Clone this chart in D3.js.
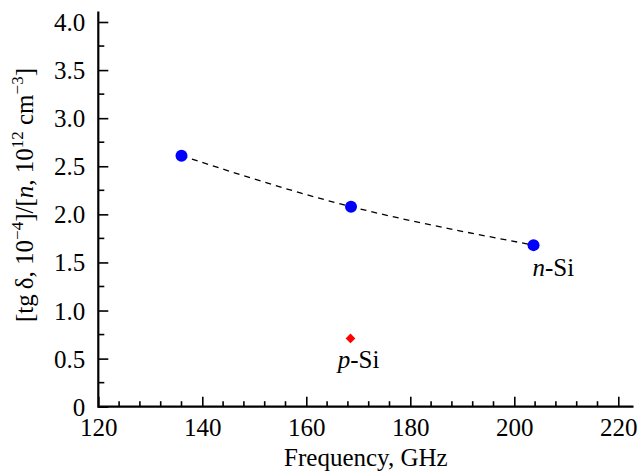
<!DOCTYPE html>
<html>
<head>
<meta charset="utf-8">
<script src="https://cdn.jsdelivr.net/npm/d3@7"></script>
</head>
<body style="margin:0">
<svg id="plot" width="638" height="475" font-family="Liberation Serif"></svg>
<script>
// Loss tangent per carrier concentration vs frequency
const nSiFreq = [136, 168.6, 203.7];
const nSiValue = [2.61, 2.08, 1.68];
const pSiFreq = [168.5];
const pSiValue = [0.71];

const xMajorTicks = [120, 140, 160, 180, 200, 220];
const yMajorTicks = [0, 0.5, 1.0, 1.5, 2.0, 2.5, 3.0, 3.5, 4.0];
const yTickLabels = ["0", "0.5", "1.0", "1.5", "2.0", "2.5", "3.0", "3.5", "4.0"];

const FONT = "Liberation Serif";
const FS = 25;
const svg = d3.select("#plot");

const x = d3.scaleLinear().domain([120, 220]).range([98.3, 618.3]);
const y = d3.scaleLinear().domain([0, 4]).range([406.7, 22]);

const xEnd = 633.5;   // axis lines run a little past the last tick
const yTop = 11.5;

// minor ticks
const xMinor = d3.range(120, 224, 4).filter(v => !xMajorTicks.includes(v));
const yMinor = d3.range(0.25, 4.1, 0.5);

const xAxis = d3.axisBottom(x)
  .tickValues(xMajorTicks)
  .tickSize(-10)
  .tickSizeOuter(0)
  .tickPadding(12);
const gx = svg.append("g").attr("transform", `translate(0,${y(0)})`).call(xAxis);
gx.attr("font-family", FONT).attr("font-size", FS);
gx.select(".domain").remove();
gx.selectAll(".tick line").attr("stroke", "#000").attr("stroke-width", 1.6);
gx.selectAll(".tick text").attr("fill", "#000");

const yAxis = d3.axisLeft(y)
  .tickValues(yMajorTicks)
  .tickFormat((d, i) => yTickLabels[i])
  .tickSize(-10)
  .tickSizeOuter(0)
  .tickPadding(13);
const gy = svg.append("g").attr("transform", `translate(${x(120)},0)`).call(yAxis);
gy.attr("font-family", FONT).attr("font-size", FS);
gy.select(".domain").remove();
gy.selectAll(".tick line").attr("stroke", "#000").attr("stroke-width", 1.6);
gy.selectAll(".tick text").attr("fill", "#000").attr("dy", "0.34em");

// minor tick marks
svg.append("g").selectAll("line").data(xMinor).join("line")
  .attr("x1", d => x(d)).attr("x2", d => x(d))
  .attr("y1", y(0)).attr("y2", y(0) - 5.5)
  .attr("stroke", "#000").attr("stroke-width", 1.6);
svg.append("g").selectAll("line").data(yMinor).join("line")
  .attr("y1", d => y(d)).attr("y2", d => y(d))
  .attr("x1", x(120)).attr("x2", x(120) + 6)
  .attr("stroke", "#000").attr("stroke-width", 1.6);

// axis lines
svg.append("line")
  .attr("x1", x(120)).attr("x2", xEnd).attr("y1", y(0)).attr("y2", y(0))
  .attr("stroke", "#000").attr("stroke-width", 2.2);
svg.append("line")
  .attr("x1", x(120)).attr("x2", x(120)).attr("y1", yTop).attr("y2", y(0) + 1.1)
  .attr("stroke", "#000").attr("stroke-width", 2.2);

// dashed trend through n-Si points
const nData = nSiFreq.map((f, i) => [f, nSiValue[i]]);
const line = d3.line().x(d => x(d[0])).y(d => y(d[1])).curve(d3.curveNatural);
svg.append("path")
  .attr("d", line(nData))
  .attr("fill", "none")
  .attr("stroke", "#000")
  .attr("stroke-width", 1.3)
  .attr("stroke-dasharray", "6,5");

// n-Si points
svg.append("g").selectAll("circle").data(nData).join("circle")
  .attr("cx", d => x(d[0])).attr("cy", d => y(d[1]))
  .attr("r", 6).attr("fill", "#0000ff");

// p-Si point
const pData = pSiFreq.map((f, i) => [f, pSiValue[i]]);
svg.append("g").selectAll("path").data(pData).join("path")
  .attr("d", d3.symbol().type(d3.symbolDiamond2).size(60))
  .attr("transform", d => `translate(${x(d[0])},${y(d[1])})`)
  .attr("fill", "#ff0000");

function addText(sel) {
  return sel.append("text")
    .attr("font-size", FS).attr("fill", "#000")
    .attr("font-family", FONT);
}

// series labels
const nLab = addText(svg)
  .attr("x", x(nSiFreq[2]) - 1).attr("y", 276);
nLab.append("tspan").attr("font-style", "italic").text("n");
nLab.append("tspan").text("-Si");

const pLab = addText(svg)
  .attr("x", x(pSiFreq[0]) + 8).attr("y", 368)
  .attr("text-anchor", "middle");
pLab.append("tspan").attr("font-style", "italic").text("p");
pLab.append("tspan").text("-Si");

// axis titles
addText(svg)
  .attr("x", (x(120) + xEnd) / 2).attr("y", 466)
  .attr("text-anchor", "middle")
  .text("Frequency, GHz");

const yt = addText(svg)
  .attr("transform", `translate(33,${195}) rotate(-90)`)
  .attr("text-anchor", "middle");
yt.append("tspan").text("[tg\u2009δ, 10");
yt.append("tspan").attr("font-size", 17).attr("dy", -10).text("\u22124");
yt.append("tspan").attr("dy", 10).text("]/[");
yt.append("tspan").attr("font-style", "italic").text("n");
yt.append("tspan").text(", 10");
yt.append("tspan").attr("font-size", 17).attr("dy", -10).text("12");
yt.append("tspan").attr("dy", 10).text(" cm");
yt.append("tspan").attr("font-size", 17).attr("dy", -10).text("\u22123");
yt.append("tspan").attr("dy", 10).text("]");
</script>
</body>
</html>
